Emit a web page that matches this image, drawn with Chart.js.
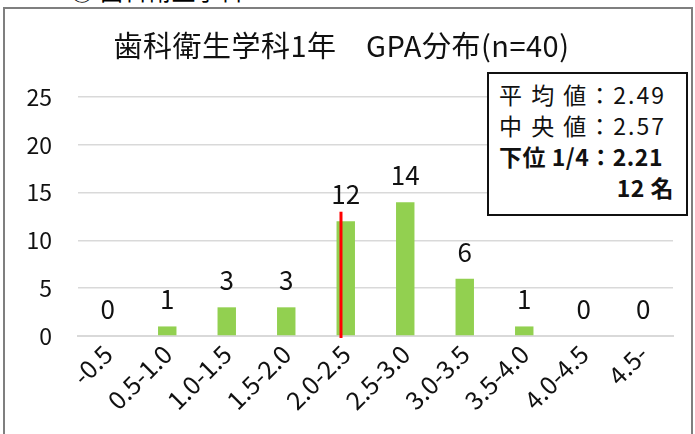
<!DOCTYPE html>
<html>
<head>
<meta charset="utf-8">
<script src="https://cdn.jsdelivr.net/npm/chart.js@4/dist/chart.umd.min.js"></script>
<style>
  html, body { margin: 0; padding: 0; background: #fff; overflow: hidden; }
  body { width: 695px; height: 434px; position: relative; font-family: "Noto Sans CJK JP", sans-serif; }
  #caption { position: absolute; left: 70px; top: -28px; font-size: 24px; color: #000; white-space: nowrap; }
  #frame { position: absolute; left: 3px; top: 7px; width: 690px; height: 440px; border: 2px solid #7f7f7f; border-bottom: none; box-sizing: border-box; }
  #title { position: absolute; left: -6px; width: 695px; top: 23px; text-align: center; font-size: 29px; letter-spacing: 0.5px; color: #111; white-space: pre; }
  #stats { position: absolute; left: 487px; top: 72px; width: 201px; height: 144px; border: 2px solid #111; box-sizing: border-box; background: #fff; font-size: 23px; color: #111; }
  #stats div { position: absolute; left: 10px; white-space: pre; letter-spacing: 2px; line-height: 1.2; }
  #stats .b { font-weight: bold; letter-spacing: 0.5px; }
  #wrap { position: absolute; left: 0; top: 0; width: 695px; height: 434px; }
</style>
</head>
<body>
<div id="caption">③ 歯科衛生学科</div>
<div id="frame"></div>
<div id="wrap"><canvas id="chart"></canvas></div>
<div id="title">歯科衛生学科1年　GPA分布(n=40)</div>
<div id="stats"></div>
<script>
"use strict";

const CATEGORIES = ["-0.5", "0.5-1.0", "1.0-1.5", "1.5-2.0", "2.0-2.5", "2.5-3.0", "3.0-3.5", "3.5-4.0", "4.0-4.5", "4.5-"];
const COUNTS = [0, 1, 3, 3, 12, 14, 6, 1, 0, 0];
const Y_TICKS = [0, 5, 10, 15, 20, 25];
const STAT_LINES = ["平 均 値：2.49", "中 央 値：2.57", "下位 1/4：2.21", "12 名"];
const QUARTILE = 2.21;
const QUARTILE_BIN_START = 2.0;
const QUARTILE_BIN_INDEX = 4;
const BIN_SIZE = 0.5;
const MARKER_TOP = 13;

const stats = document.getElementById("stats");
STAT_LINES.forEach((text, i) => {
  const d = document.createElement("div");
  d.textContent = text;
  d.style.top = (7 + i * 31) + "px";
  if (i >= 2) d.className = "b";
  if (i === 3) { d.style.left = "auto"; d.style.right = "12px"; }
  stats.appendChild(d);
});

const FONT = "'Noto Sans CJK JP', sans-serif";

const valueLabels = {
  id: "valueLabels",
  afterDatasetsDraw(c) {
    const { ctx, scales } = c;
    ctx.save();
    ctx.font = "26px " + FONT;
    ctx.fillStyle = "#111";
    ctx.textAlign = "center";
    ctx.textBaseline = "middle";
    COUNTS.forEach((v, i) => {
      const x = scales.x.getPixelForValue(i);
      const y = scales.y.getPixelForValue(v) - 27;
      ctx.fillText(String(v), x, y);
    });
    ctx.restore();
  },
};

const quartileMarker = {
  id: "quartileMarker",
  afterDatasetsDraw(c) {
    const { ctx, scales } = c;
    const catW = scales.x.getPixelForValue(1) - scales.x.getPixelForValue(0);
    const frac = (QUARTILE - QUARTILE_BIN_START) / BIN_SIZE - 0.5;
    const x = scales.x.getPixelForValue(QUARTILE_BIN_INDEX) + frac * catW;
    ctx.save();
    ctx.strokeStyle = "#ff0000";
    ctx.lineWidth = 3;
    ctx.beginPath();
    ctx.moveTo(x, scales.y.getPixelForValue(0) + 2);
    ctx.lineTo(x, scales.y.getPixelForValue(MARKER_TOP));
    ctx.stroke();
    ctx.restore();
  },
};

new Chart(document.getElementById("chart"), {
  type: "bar",
  data: {
    labels: CATEGORIES,
    datasets: [{ data: COUNTS, backgroundColor: "#92d050", categoryPercentage: 1, barPercentage: 0.31 }],
  },
  options: {
    responsive: true,
    maintainAspectRatio: false,
    animation: false,
    layout: { padding: { top: 97, right: 22, left: 0, bottom: 0 } },
    scales: {
      x: {
        grid: { display: false, drawTicks: false },
        border: { display: true, color: "#d9d9d9", width: 2 },
        ticks: { color: "#111", font: { family: FONT, size: 25 }, minRotation: 45, maxRotation: 45, padding: 3, autoSkip: false },
        afterFit(s) { s.height = 98; },
      },
      y: {
        min: 0,
        max: 25,
        afterBuildTicks(s) { s.ticks = Y_TICKS.map((v) => ({ value: v })); },
        grid: { color: "#d9d9d9", lineWidth: 1.5, drawTicks: false },
        border: { display: false },
        ticks: { color: "#111", font: { family: FONT, size: 23 }, padding: 26 },
        afterFit(s) { s.width = 78; },
      },
    },
    plugins: { legend: { display: false }, tooltip: { enabled: false } },
  },
  plugins: [valueLabels, quartileMarker],
});
</script>
</body>
</html>
